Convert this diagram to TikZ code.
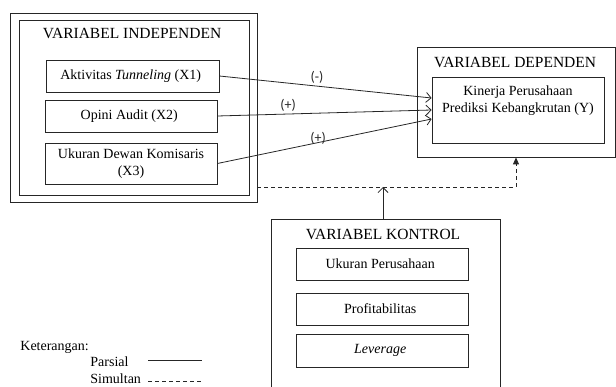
\documentclass[tikz,border=0pt]{standalone}
\usepackage{fontspec}
\setmainfont{Liberation Serif}
\newfontfamily\signfont{Carlito}
\usetikzlibrary{arrows,arrows.meta,positioning}

\begin{document}
\begin{tikzpicture}[x=1pt, y=-1pt, every node/.style={
    rectangle,
    inner sep=2pt,
    draw=black!85,
    line width=0.8pt,
    align=center,
    font=\fontsize{14}{17}\selectfont
}, heading/.style={draw=none, font=\fontsize{15.5}{18}\selectfont},
   sign/.style={draw=none, inner sep=1pt, font=\signfont\fontsize{14}{17}\selectfont},
   >={Straight Barb[length=5pt, width=10pt]}]
    \useasboundingbox (0,0) rectangle (616,387);

    % variabel independen
    \node (indep_outer) [minimum width=247pt, minimum height=189pt, shift={(133.5, 107.5)}] {};
    \node (indep_inner) [minimum width=230pt, minimum height=175pt, shift={(134, 107.5)}] {};
    \node (indep_title) [heading, shift={(134, 34)}]
    {
        VARIABEL INDEPENDEN
    };
    \node (aktivitas_tunneling_x1) [minimum width=173pt, minimum height=32pt, shift={(132.5, 76)}]
    {
        Aktivitas \textit{Tunneling} (X1)
    };
    \node (opini_audit_x2) [minimum width=172pt, minimum height=32pt, shift={(131, 116)}]
    {
        Opini Audit (X2)
    };
    \node (ukuran_dewan_x3) [minimum width=172pt, minimum height=41pt, shift={(131, 163.5)}]
    {
        Ukuran Dewan Komisaris\\(X3)
    };

    % variabel dependen
    \node (dep_outer) [minimum width=198pt, minimum height=110pt, shift={(516, 102)}] {};
    \node (dep_title) [heading, shift={(517, 63)}]
    {
        VARIABEL DEPENDEN
    };
    \node (dep_inner) [minimum width=172pt, minimum height=66pt, shift={(518, 110)}] {};
    \node (kinerja_y) [draw=none, shift={(518, 101)}]
    {
        Kinerja Perusahaan\\Prediksi Kebangkrutan (Y)
    };

    % variabel kontrol
    \node (ktrl_outer) [minimum width=229pt, minimum height=174pt, shift={(385.5, 306)}] {};
    \node (ktrl_title) [heading, shift={(385, 234)}]
    {
        VARIABEL KONTROL
    };
    \node (ukuran_perusahaan) [minimum width=172pt, minimum height=32pt, shift={(382, 264)}]
    {
        Ukuran Perusahaan
    };
    \node (profitabilitas) [minimum width=172pt, minimum height=32pt, shift={(382, 309)}]
    {
        Profitabilitas
    };
    \node (leverage) [minimum width=172pt, minimum height=33pt, shift={(382, 350.5)}]
    {
        \textit{Leverage}
    };

    % keterangan
    \node (keterangan) [draw=none, anchor=west, inner sep=0pt, shift={(20, 347)}] {Keterangan:};
    \node (parsial) [draw=none, anchor=west, inner sep=0pt, shift={(90, 362)}] {Parsial};
    \node (simultan) [draw=none, anchor=west, inner sep=0pt, shift={(90, 379)}] {Simultan};
    \draw[black!85, line width=0.8pt] (148, 360) -- (202, 360);
    \draw[black!85, line width=0.8pt, dash pattern=on 4pt off 3pt] (148, 381) -- (202, 381);

    \coordinate (sim_mid) at (383, 187);

    \draw[->, black!85, line width=0.8pt] (aktivitas_tunneling_x1.east) to
        node[sign, pos=0.46, above=1pt] {(-)} ([yshift=12pt]dep_inner.west);
    \draw[->, black!85, line width=0.8pt] (opini_audit_x2.east) to
        node[sign, pos=0.33, above=1pt] {(+)} (dep_inner.west);
    \draw[->, black!85, line width=0.8pt] (ukuran_dewan_x3.east) to
        node[sign, pos=0.47, above=-3pt] {(+)} ([yshift=-9pt]dep_inner.west);

    \draw[-{Triangle[length=7pt, width=6pt]}, black!85, line width=0.8pt, dash pattern=on 4pt off 3pt]
        ([yshift=15pt]indep_outer.south east) -| (dep_outer.south);
    \draw[->, black!85, line width=0.8pt] (ktrl_outer.north -| sim_mid) to (sim_mid);
\end{tikzpicture}
\end{document}
